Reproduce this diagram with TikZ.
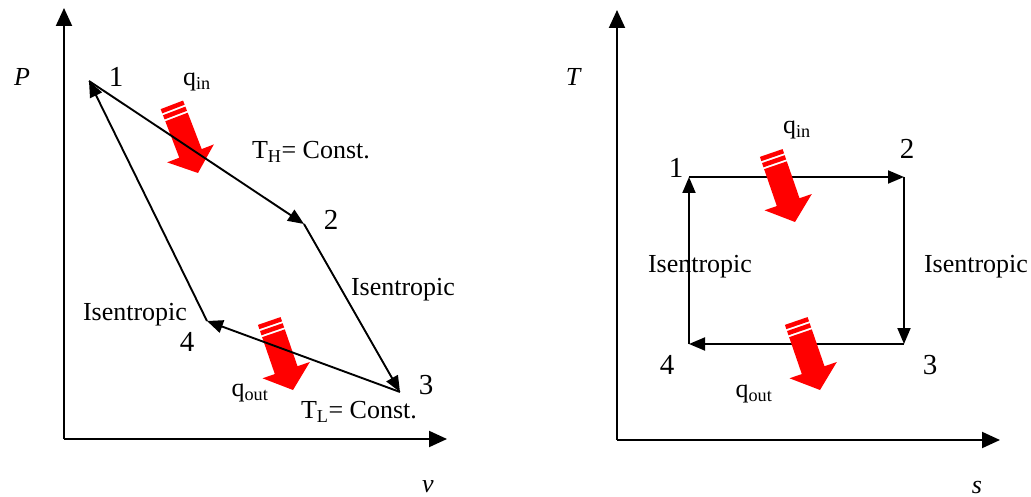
\documentclass[tikz,border=0pt]{standalone}
\usepackage{fontspec}
\setmainfont{Liberation Serif}
\usetikzlibrary{arrows.meta}
\newcommand\heatarrow[3]{%
  \begin{scope}[shift={(#1,#2)},rotate=#3]
    \fill[red] (-73,-12) rectangle (-68.5,12);
    \fill[red] (-66.5,-12) rectangle (-62,12);
    \fill[red] (-60,-12) -- (-21,-12) -- (-21,-25) -- (0,0) -- (-21,25) -- (-21,12) -- (-60,12) -- cycle;
  \end{scope}}
\begin{document}
\begin{tikzpicture}[x=1pt,y=-1pt,
  lbl/.style={inner sep=0pt, font=\fontsize{26}{30}\selectfont},
  num/.style={inner sep=0pt, font=\fontsize{29}{32}\selectfont},
  axisline/.style={line width=2pt, -{Triangle[length=18pt,width=16pt]}},
  cyc/.style={line width=1.9pt, -{Triangle[length=16pt,width=13pt]}}]
\useasboundingbox (0,0) rectangle (1031,497);
% ---------- left P-v diagram ----------
\coordinate (LO) at (64,439);
\coordinate (LY) at (64,8);
\coordinate (LX) at (447,439);
\draw[axisline] (LO) -- (LY);
\draw[axisline] (LO) -- (LX);
\coordinate (L1) at (89,81);
\coordinate (L2) at (304,224);
\coordinate (L3) at (400,392);
\coordinate (L4) at (207,321);
\heatarrow{198}{173}{-69}
\heatarrow{293}{390}{-71}
\draw[cyc] (L1) -- (L2);
\draw[cyc] (L2) -- (L3);
\draw[cyc] (L3) -- (L4);
\draw[cyc] (L4) -- (L1);
\node[lbl,font=\fontsize{26}{30}\selectfont\itshape] (P) at (22,77) {P};
\node[num] (n1) at (116,77) {1};
\node[lbl] (qinL) at (197,82) {q\textsubscript{in}};
\node[lbl] (TH) at (311,152) {T\textsubscript{H}= Const.};
\node[num] (n2) at (331,220) {2};
\node[lbl] (isR) at (403,290) {Isentropic};
\node[lbl] (isL) at (135,315) {Isentropic};
\node[num] (n4) at (187,342) {4};
\node[num] (n3) at (426,385) {3};
\node[lbl] (qoutL) at (250,393) {q\textsubscript{out}};
\node[lbl] (TL) at (359,412) {T\textsubscript{L}= Const.};
\node[lbl,font=\fontsize{26}{30}\selectfont\itshape] (v) at (428,487) {v};
% ---------- right T-s diagram ----------
\coordinate (RO) at (617,440);
\coordinate (RY) at (617,10);
\coordinate (RX) at (1000,440);
\draw[axisline] (RO) -- (RY);
\draw[axisline] (RO) -- (RX);
\coordinate (R1) at (689,177);
\coordinate (R2) at (904,177);
\coordinate (R3) at (904,344);
\coordinate (R4) at (689,344);
\draw[cyc] (R1) -- (R2);
\draw[cyc] (R2) -- (R3);
\draw[cyc] (R3) -- (R4);
\draw[cyc] (R4) -- (R1);
\heatarrow{795}{222}{-71}
\heatarrow{820}{390}{-71}
\node[lbl,font=\fontsize{26}{30}\selectfont\itshape] (T) at (573,77) {T};
\node[lbl] (qinR) at (797,130) {q\textsubscript{in}};
\node[num] (m1) at (676,168) {1};
\node[num] (m2) at (907,149) {2};
\node[lbl] (isRL) at (700,267) {Isentropic};
\node[lbl] (isRR) at (976,267) {Isentropic};
\node[num] (m4) at (667,365) {4};
\node[num] (m3) at (930,365) {3};
\node[lbl] (qoutR) at (754,394) {q\textsubscript{out}};
\node[lbl,font=\fontsize{26}{30}\selectfont\itshape] (s) at (977,487) {s};
\end{tikzpicture}
\end{document}
